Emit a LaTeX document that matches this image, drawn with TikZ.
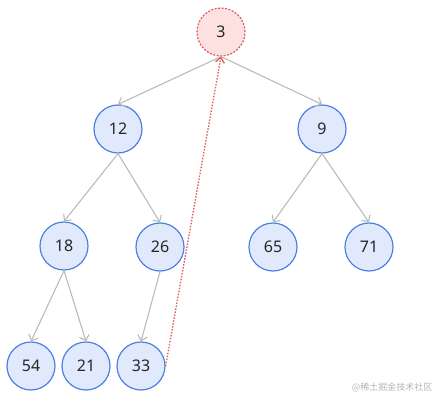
\documentclass[tikz,border=0pt]{standalone}
\usepackage{fontspec}
\setmainfont{Noto Sans}
\newfontfamily\cjk{Noto Sans CJK SC}
\usepackage{xcolor}
\usetikzlibrary{arrows.meta, positioning}
\definecolor{nodefill}{HTML}{E1EAFC}
\definecolor{nodeline}{HTML}{4F80E1}
\definecolor{hotfill}{HTML}{FDE1E1}
\definecolor{hotline}{HTML}{E05A5A}
\definecolor{edgegray}{HTML}{BBBBBB}
\definecolor{marktext}{HTML}{B5B5B5}
\tikzset{
  heapnode/.style={circle, draw=nodeline, fill=nodefill, line width=1.2pt, minimum size=48pt, inner sep=0pt, font=\fontsize{16}{18}\selectfont, text=black!85},
  hotnode/.style={heapnode, draw=hotline, fill=hotfill, dash pattern=on 2pt off 1.5pt},
  edge/.style={-{Straight Barb[length=5pt, width=10pt]}, draw=edgegray, line width=1.1pt},
  swap/.style={-{Straight Barb[length=5pt, width=9pt]}, draw=hotline, dash pattern=on 1.5pt off 1.5pt, line width=1.3pt},
}
\begin{document}
\begin{tikzpicture}[x=1pt, y=-1pt]
  \useasboundingbox (0,0) rectangle (441,403);
  \node[hotnode] (n3) at (221,32) {3};
  \node[heapnode] (n12) at (118,129) {12};
  \node[heapnode] (n9) at (322,129) {9};
  \node[heapnode] (n18) at (64,246) {18};
  \node[heapnode] (n26) at (160,247) {26};
  \node[heapnode] (n65) at (273,247) {65};
  \node[heapnode] (n71) at (369,247) {71};
  \node[heapnode] (n54) at (31,366) {54};
  \node[heapnode] (n21) at (86,366) {21};
  \node[heapnode] (n33) at (141,366) {33};
  \node[font=\cjk\fontsize{9}{10}\selectfont, text=marktext, anchor=east] (mark) at (436,387) {@稀土掘金技术社区};
  \draw[edge] (n3.south) -- (n12.north);
  \draw[edge] (n3.south) -- (n9.north);
  \draw[edge] (n12.south) -- (n18.north);
  \draw[edge] (n12.south) -- (n26.north);
  \draw[edge] (n9.south) -- (n65.north);
  \draw[edge] (n9.south) -- (n71.north);
  \draw[edge] (n18.south) -- (n54.north);
  \draw[edge] (n18.south) -- (n21.north);
  \draw[edge] (n26.south) -- (n33.north);
  \draw[swap] (n33.east) -- (n3.south);
\end{tikzpicture}
\end{document}
